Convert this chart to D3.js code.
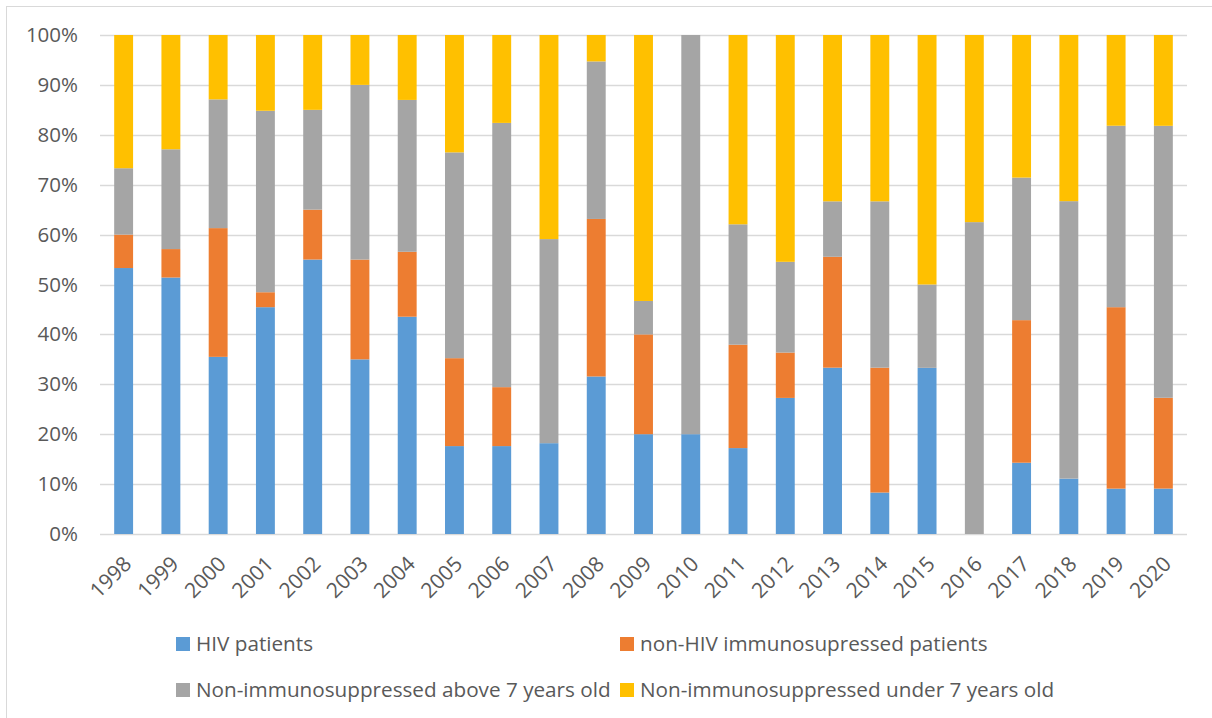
<!DOCTYPE html>
<html>
<head>
<meta charset="utf-8">
<script src="https://cdn.jsdelivr.net/npm/d3@7"></script>
<style>
  body { margin: 0; background: #fff; }
  text { font-family: "Open Sans", "Liberation Sans", sans-serif; fill: #595959; }
</style>
</head>
<body>
<script>
var years = ["1998","1999","2000","2001","2002","2003","2004","2005","2006","2007","2008",
             "2009","2010","2011","2012","2013","2014","2015","2016","2017","2018","2019","2020"];

var hiv    = [53.3, 51.4, 35.5, 45.5, 55.0, 35.0, 43.5, 17.6, 17.6, 18.2, 31.6, 20.0, 20.0, 17.2, 27.3, 33.3, 8.3, 33.3, 0, 14.3, 11.1, 9.1, 9.1];
var nonHiv = [6.7, 5.7, 25.8, 3.0, 10.0, 20.0, 13.0, 17.6, 11.8, 0, 31.6, 20.0, 0, 20.7, 9.1, 22.2, 25.0, 0, 0, 28.6, 0, 36.4, 18.2];
var above7 = [13.3, 20.0, 25.8, 36.4, 20.0, 35.0, 30.4, 41.2, 52.9, 40.9, 31.6, 6.7, 80.0, 24.1, 18.2, 11.1, 33.3, 16.7, 62.5, 28.6, 55.6, 36.4, 54.5];
var under7 = [26.7, 22.9, 12.9, 15.2, 15.0, 10.0, 13.0, 23.5, 17.6, 40.9, 5.3, 53.3, 0, 37.9, 45.5, 33.3, 33.3, 50.0, 37.5, 28.6, 33.3, 18.2, 18.2];

var seriesNames = ["HIV patients", "non-HIV immunosupressed patients",
                   "Non-immunosuppressed above 7 years old", "Non-immunosuppressed under 7 years old"];
var yTicks = [0, 0.1, 0.2, 0.3, 0.4, 0.5, 0.6, 0.7, 0.8, 0.9, 1];

var colors = ["#5B9BD5", "#ED7D31", "#A5A5A5", "#FFC000"];
var keys = ["hiv", "nonHiv", "above7", "under7"];

var rows = years.map(function(y, i) {
	return {year: y, hiv: hiv[i], nonHiv: nonHiv[i], above7: above7[i], under7: under7[i]};
});

var margin = {top: 35, right: 25, bottom: 184, left: 100};
var width = 1212 - margin.left - margin.right;
var height = 718 - margin.top - margin.bottom;

var svg = d3.select("body").append("svg")
    .attr("width", 1212)
    .attr("height", 718);

// chart frame (right and bottom edges fall outside the picture)
svg.append("rect")
    .attr("x", 6.5).attr("y", 6.5)
    .attr("width", 1220).attr("height", 730)
    .attr("fill", "none")
    .attr("stroke", "#D9D9D9");

var g = svg.append("g")
    .attr("transform", "translate(" + margin.left + "," + margin.top + ")");

var x = d3.scaleBand().domain(years).range([0, width]).paddingInner(0.6).paddingOuter(0.3);
var y = d3.scaleLinear().domain([0, 1]).range([height, 0]);

// gridlines
g.selectAll(".grid")
  .data(yTicks)
  .enter().append("line")
  .attr("x1", 0).attr("x2", width)
  .attr("y1", function(d) { return Math.round(y(d)) + 0.5; })
  .attr("y2", function(d) { return Math.round(y(d)) + 0.5; })
  .attr("stroke", "#D9D9D9")
  .attr("stroke-width", 1.3);

var stack = d3.stack().keys(keys).offset(d3.stackOffsetExpand);
var series = stack(rows);

g.selectAll(".series")
  .data(series)
  .enter().append("g")
  .attr("fill", function(d, i) { return colors[i]; })
  .selectAll("rect")
  .data(function(d) { return d; })
  .enter().append("rect")
  .attr("x", function(d) { return x(d.data.year); })
  .attr("width", x.bandwidth())
  .attr("y", function(d) { return y(d[1]); })
  .attr("height", function(d) { return y(d[0]) - y(d[1]); });

// y axis labels
var yAxis = g.append("g")
  .call(d3.axisLeft(y).tickValues(yTicks).tickFormat(d3.format(".0%")).tickSize(0).tickPadding(22));
yAxis.select(".domain").remove();
yAxis.selectAll("text")
  .style("font-size", "20.5px")
  .attr("fill", "#595959");

// x axis labels
var xAxis = g.append("g")
  .attr("transform", "translate(0," + height + ")")
  .call(d3.axisBottom(x).tickSize(0));
xAxis.select(".domain").remove();
xAxis.selectAll("text")
  .style("font-size", "21px")
  .attr("fill", "#595959")
  .attr("text-anchor", "end")
  .attr("dy", "0.35em")
  .attr("transform", "translate(4,26) rotate(-45)")
  .attr("y", 0);

// legend
var legendPos = [[176, 644], [620, 644], [176, 690], [620, 690]];
var legend = svg.selectAll(".legend")
  .data(seriesNames)
  .enter().append("g")
  .attr("transform", function(d, i) { return "translate(" + legendPos[i][0] + "," + legendPos[i][1] + ")"; });

legend.append("rect")
  .attr("x", 0).attr("y", -7)
  .attr("width", 14).attr("height", 14)
  .attr("fill", function(d, i) { return colors[i]; });

legend.append("text")
  .attr("x", 20)
  .attr("dy", "0.35em")
  .style("font-size", "20.7px")
  .text(function(d) { return d; });
</script>
</body>
</html>
